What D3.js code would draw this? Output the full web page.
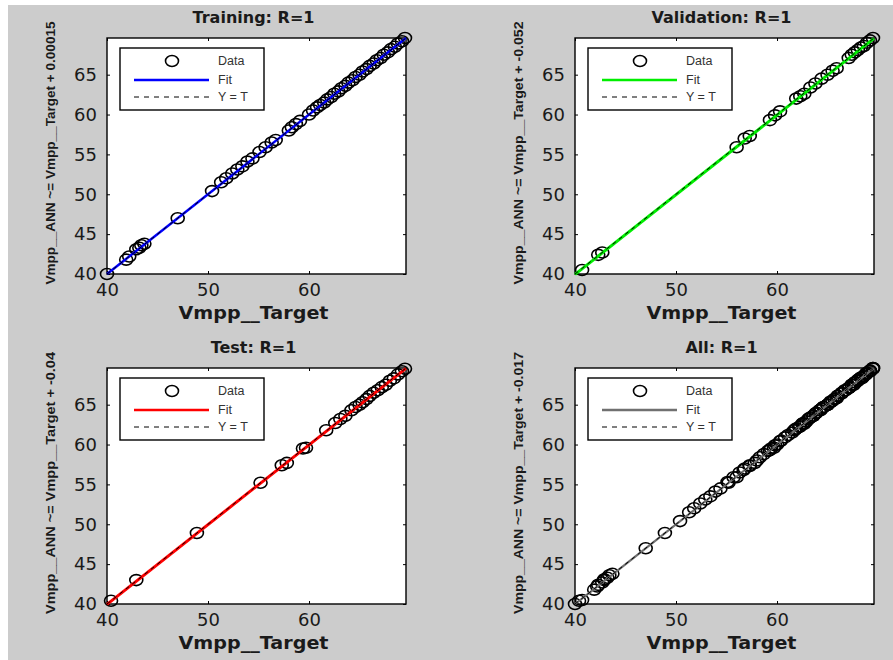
<!DOCTYPE html>
<head>
  <meta charset="utf-8">
  <script src="https://d3js.org/d3.v7.min.js"></script>
  <style>
    body { margin:0; background:#fff; }
    text { font-family: "DejaVu Sans", sans-serif; }
  </style>
</head>
<body>
<script>
  // panel texts
  var titles = ["Training: R=1", "Validation: R=1", "Test: R=1", "All: R=1"];
  var yLabels = [
    "Vmpp__ANN ~= Vmpp__Target + 0.00015",
    "Vmpp__ANN ~= Vmpp__Target  + -0.052",
    "Vmpp__ANN ~= Vmpp__Target + -0.04",
    "Vmpp__ANN ~= Vmpp__Target + -0.017"
  ];
  var xLabel = "Vmpp__Target";
  var legendLabels = ["Data", "Fit", "Y = T"];

  // fit line per panel (slope 1, intercept from the label)
  var fitSlopes = [1, 1, 1, 1];
  var fitIntercepts = [0.00015, -0.052, -0.04, -0.017];
  var fitColors = ["#0000ff", "#00ee00", "#ff0000", "#707070"];

  // ticks
  var axisRange = [40, 69.6];
  var xTicks = [40, 50, 60];
  var yTicks = [40, 45, 50, 55, 60, 65];

  // [target, output]
  var trainData = [[40.0,40.0],[41.9,41.8],[42.2,42.2],[42.9,43.1],[43.2,43.3],[43.4,43.6],[43.7,43.8],
    [47.0,47.0],[50.4,50.4],[51.3,51.5],[51.8,52.0],[52.4,52.6],[52.9,53.1],[53.4,53.5],[53.9,54.1],
    [54.4,54.5],[55.1,55.3],[55.7,55.9],[56.3,56.5],[56.7,56.8],[58.0,58.0],[58.3,58.4],[58.7,58.8],
    [59.1,59.2],[60.0,60.0],[60.4,60.5],[60.8,60.9],[61.1,61.2],[61.5,61.5],[61.8,61.9],[62.2,62.2],
    [62.5,62.6],[62.9,62.9],[63.2,63.3],[63.6,63.6],[63.9,64.0],[64.3,64.3],[64.6,64.7],[65.0,65.0],
    [65.3,65.4],[65.7,65.7],[66.0,66.1],[66.4,66.4],[66.7,66.8],[67.1,67.1],[67.4,67.5],[67.8,67.8],
    [68.1,68.2],[68.5,68.5],[68.8,68.9],[69.2,69.2],[69.5,69.6]];
  var valData = [[40.7,40.5],[42.3,42.4],[42.7,42.7],[56.0,55.9],[56.8,57.0],[57.3,57.3],[59.3,59.3],
    [59.8,59.9],[60.3,60.4],[61.9,62.0],[62.3,62.3],[62.7,62.6],[63.3,63.4],[63.8,63.9],[64.4,64.5],
    [65.0,65.0],[65.5,65.5],[65.9,65.8],[67.1,67.1],[67.4,67.5],[67.7,67.8],[68.0,68.1],[68.3,68.4],
    [68.6,68.6],[68.9,69.0],[69.2,69.3],[69.5,69.6]];
  var testData = [[40.4,40.4],[42.9,43.0],[48.9,48.9],[55.2,55.2],[57.3,57.4],[57.8,57.7],[59.4,59.5],
    [59.7,59.6],[61.7,61.8],[62.6,62.7],[63.1,63.2],[63.6,63.6],[64.2,64.3],[64.6,64.7],[65.0,65.0],
    [65.3,65.3],[65.7,65.7],[66.0,66.1],[66.4,66.5],[66.8,66.8],[67.2,67.2],[67.6,67.5],[68.0,68.0],
    [68.4,68.3],[68.8,68.8],[69.2,69.2],[69.5,69.5]];
  var allData = trainData.concat(valData, testData);
  var panelData = [trainData, valData, testData, allData];

  var W = 893, H = 660;
  var boxW = 299, boxH = 236;
  var lefts = [107, 575, 107, 575], tops = [38, 38, 368, 368];
  var fitWidths = [2.5, 3, 3, 2.2];
  var yLabelLen = [263, 263, 262, 262];

  var svg = d3.select("body").append("svg")
      .attr("width", W)
      .attr("height", H);

  svg.append("rect")
    .attr("x", 8).attr("y", 5)
    .attr("width", W - 8).attr("height", H - 5)
    .attr("fill", "#cccccc");

  panelData.forEach(function(data, i) {
    var g = svg.append("g")
      .attr("transform", "translate(" + lefts[i] + "," + tops[i] + ")");

    var x = d3.scaleLinear().domain(axisRange).range([0, boxW]);
    var y = d3.scaleLinear().domain(axisRange).range([boxH, 0]);

    g.append("rect")
      .attr("width", boxW).attr("height", boxH)
      .attr("fill", "#fff");

    // axes, ticks inside like matlab
    var ax = [
      g.append("g").attr("transform", "translate(0," + boxH + ")")
        .call(d3.axisBottom(x).tickValues(xTicks).tickSize(-3).tickPadding(9)),
      g.append("g")
        .call(d3.axisLeft(y).tickValues(yTicks).tickSize(-3).tickPadding(10)),
      g.append("g")
        .call(d3.axisTop(x).tickValues(xTicks).tickSize(-3).tickFormat("")),
      g.append("g").attr("transform", "translate(" + boxW + ",0)")
        .call(d3.axisRight(y).tickValues(yTicks).tickSize(-3).tickFormat(""))
    ];
    ax.forEach(function(a) {
      a.select(".domain").remove();
      a.attr("font-family", null).attr("font-size", null);
      a.selectAll("line").attr("stroke", "#000");
      a.selectAll("text").style("font-size", "18px").attr("fill", "#1a1a1a");
    });

    g.append("rect")
      .attr("width", boxW).attr("height", boxH)
      .attr("fill", "none").attr("stroke", "#000").attr("stroke-width", 1.4);

    // data circles
    g.selectAll("ellipse.pt").data(data).enter()
      .append("ellipse")
        .attr("class", "pt")
        .attr("cx", function(d) { return x(d[0]); })
        .attr("cy", function(d) { return y(d[1]); })
        .attr("rx", 6.5).attr("ry", 5.5)
        .attr("fill", "none")
        .attr("stroke", "#000")
        .attr("stroke-width", 1.6);

    // fit
    g.append("line")
      .attr("x1", x(axisRange[0])).attr("x2", x(axisRange[1]))
      .attr("y1", y(fitSlopes[i] * axisRange[0] + fitIntercepts[i]))
      .attr("y2", y(fitSlopes[i] * axisRange[1] + fitIntercepts[i]))
      .attr("stroke", fitColors[i])
      .attr("stroke-width", fitWidths[i]);

    // Y = T
    g.append("line")
      .attr("x1", x(axisRange[0])).attr("x2", x(axisRange[1]))
      .attr("y1", y(axisRange[0])).attr("y2", y(axisRange[1]))
      .attr("stroke", "#000")
      .attr("stroke-width", 1)
      .style("stroke-dasharray", "4,4");

    // title & labels
    g.append("text")
      .attr("x", boxW / 2 - 3).attr("y", -15)
      .attr("text-anchor", "middle")
      .style("font-size", "16px").style("font-weight", "bold")
      .attr("fill", "#1a1a1a")
      .text(titles[i]);

    g.append("text")
      .attr("x", boxW / 2 - 3).attr("y", boxH + 45)
      .attr("text-anchor", "middle")
      .attr("textLength", 150)
      .attr("lengthAdjust", "spacingAndGlyphs")
      .style("font-size", "17px").style("font-weight", "bold")
      .attr("fill", "#1a1a1a")
      .text(xLabel);

    g.append("text")
      .attr("transform", "translate(-56," + (boxH / 2 - 3) + ") rotate(-90)")
      .attr("text-anchor", "middle")
      .attr("dominant-baseline", "central")
      .attr("textLength", yLabelLen[i])
      .attr("lengthAdjust", "spacingAndGlyphs")
      .style("font-family", "'Liberation Sans', Arial, sans-serif")
      .style("font-size", "12.5px").style("font-weight", "bold")
      .attr("fill", "#1a1a1a")
      .text(yLabels[i]);

    // legend
    var lg = g.append("g").attr("transform", "translate(13,10)");
    lg.append("rect")
      .attr("width", 144).attr("height", 62)
      .attr("fill", "#fff").attr("stroke", "#000").attr("stroke-width", 1.4);
    var rowY = [13, 32, 49];
    lg.append("ellipse")
      .attr("cx", 52).attr("cy", rowY[0]).attr("rx", 6.5).attr("ry", 5.5)
      .attr("fill", "none").attr("stroke", "#000").attr("stroke-width", 1.6);
    lg.append("line")
      .attr("x1", 14).attr("x2", 89).attr("y1", rowY[1]).attr("y2", rowY[1])
      .attr("stroke", fitColors[i]).attr("stroke-width", 2.5);
    lg.append("line")
      .attr("x1", 14).attr("x2", 89).attr("y1", rowY[2]).attr("y2", rowY[2])
      .attr("stroke", "#000").attr("stroke-width", 1)
      .style("stroke-dasharray", "5,5");
    lg.selectAll("text.lbl").data(legendLabels).enter()
      .append("text")
        .attr("class", "lbl")
        .attr("x", 98)
        .attr("y", function(d, j) { return rowY[j]; })
        .attr("dominant-baseline", "central")
        .style("font-family", "'Liberation Sans', Arial, sans-serif")
        .style("font-size", "12.5px")
        .attr("fill", "#333")
        .text(function(d) { return d; });
  });
</script>
</body>
